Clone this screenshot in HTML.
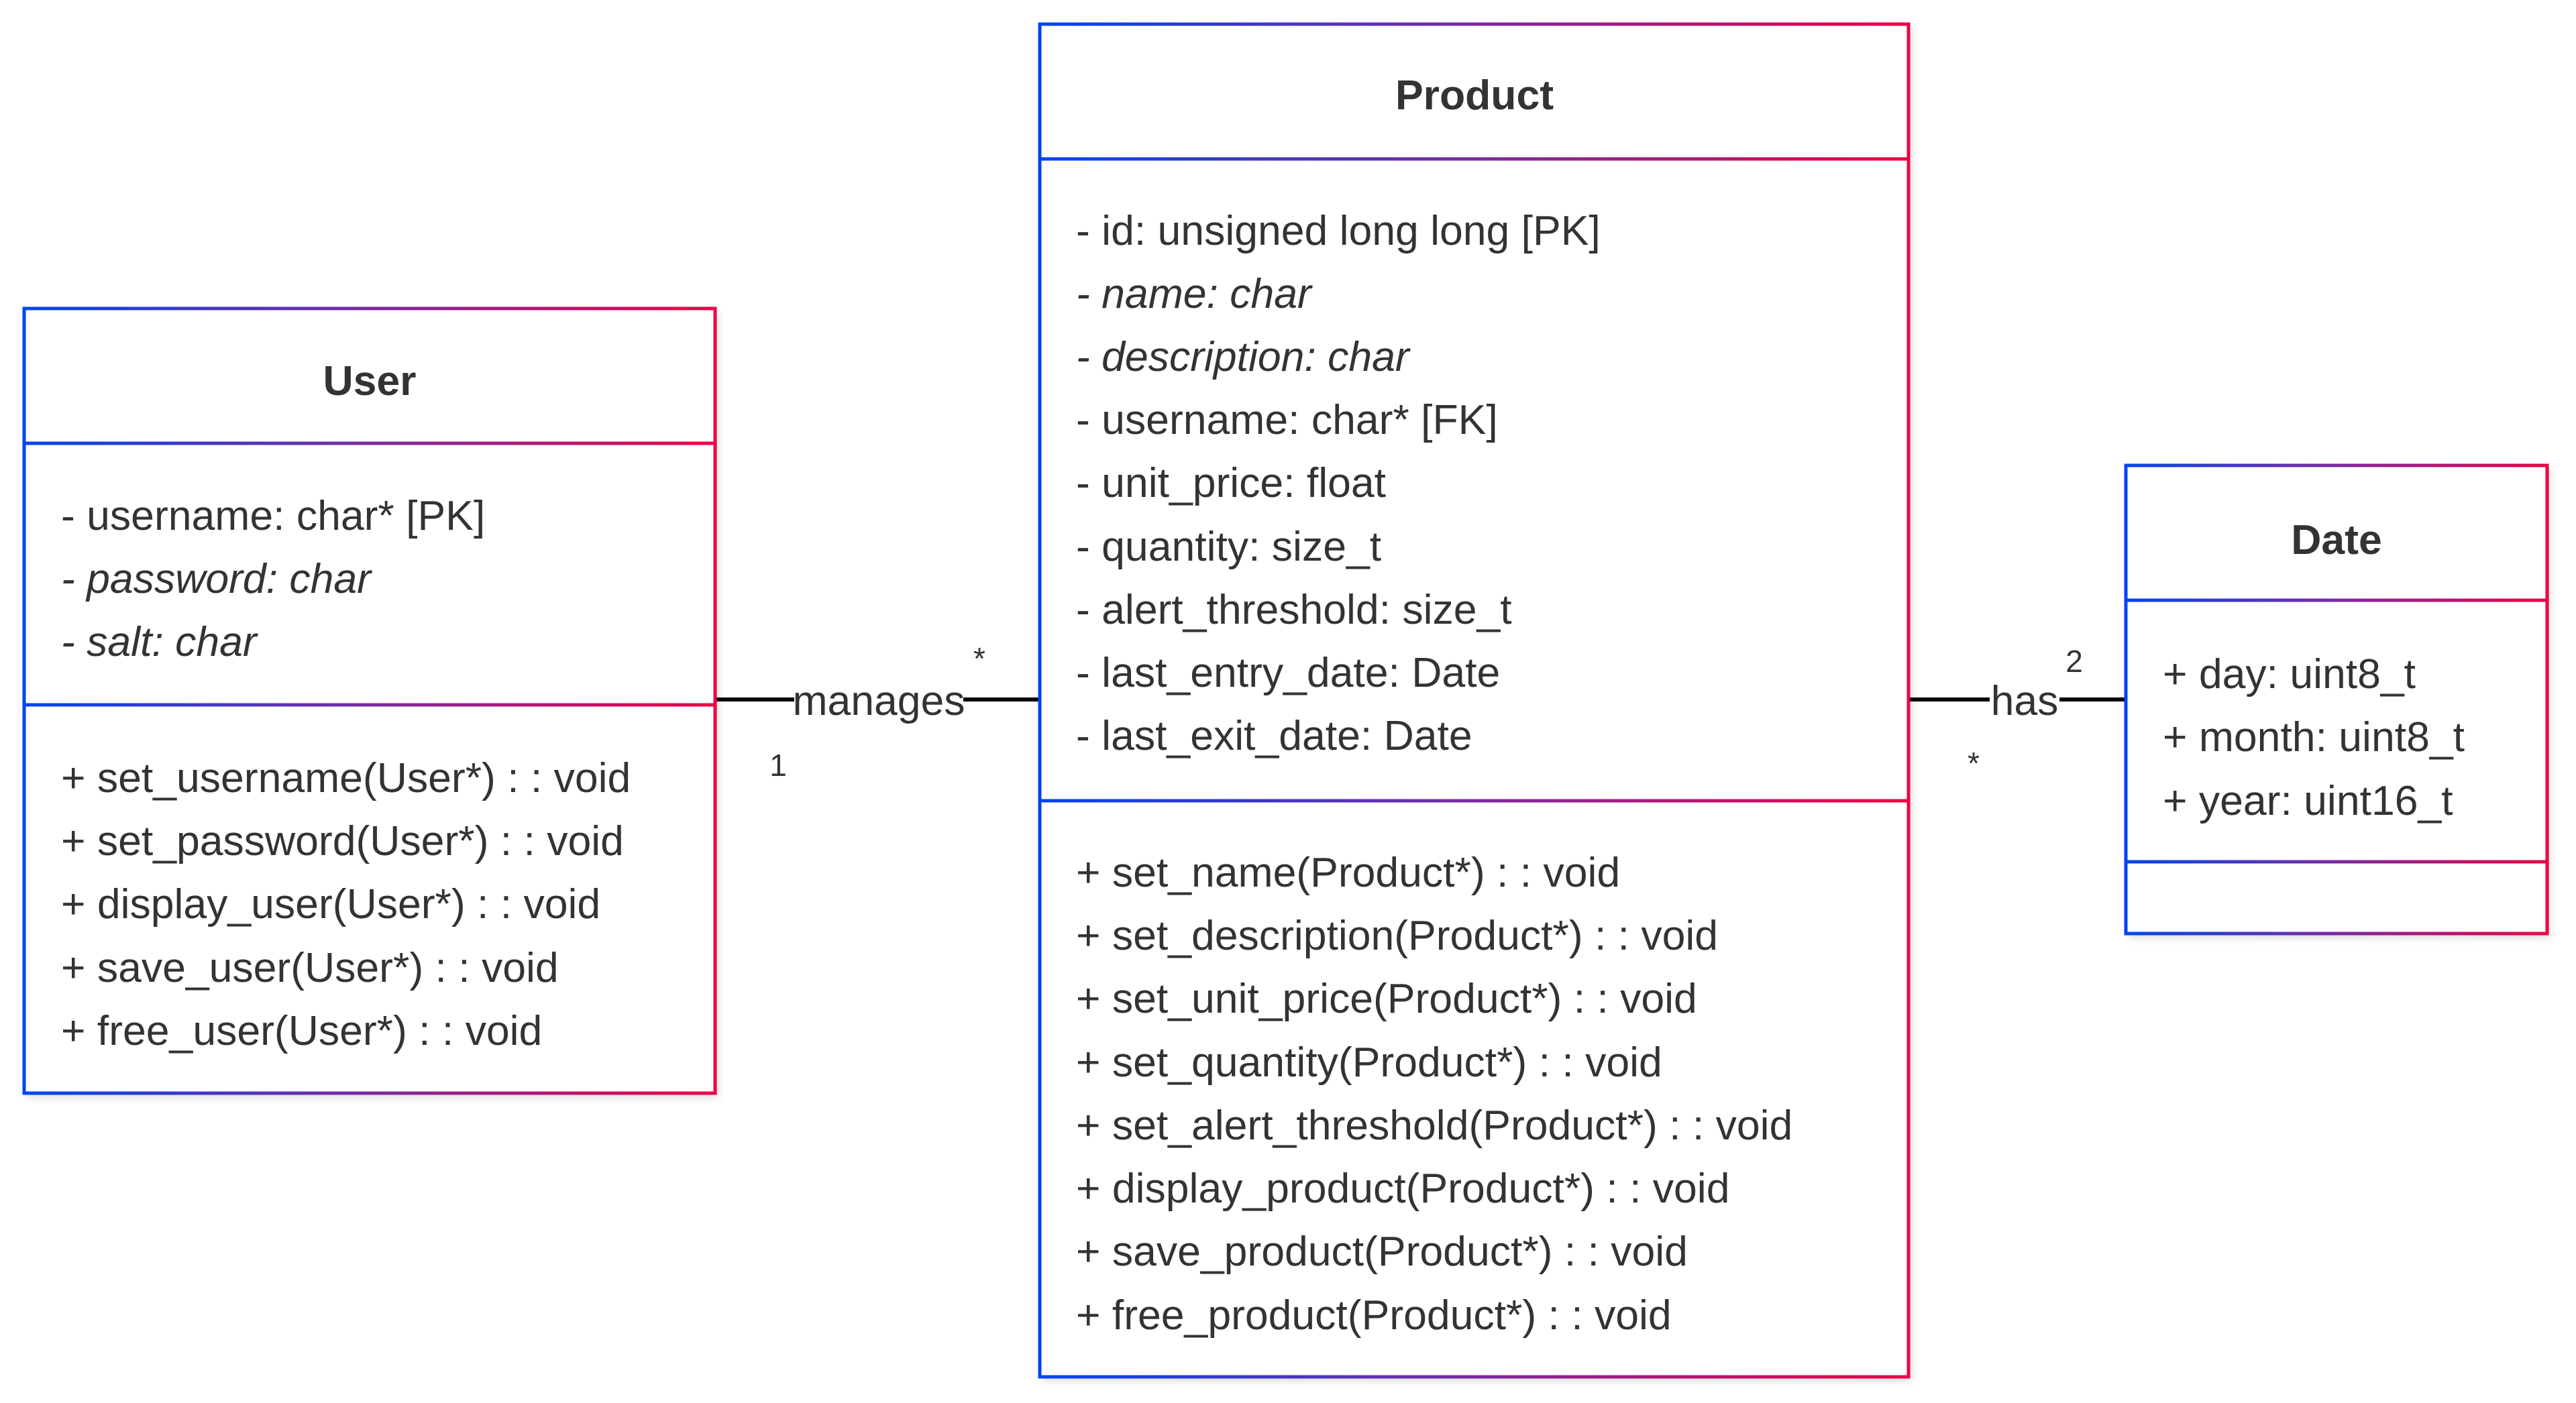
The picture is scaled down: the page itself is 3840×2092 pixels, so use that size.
<!DOCTYPE html>
<html><head><meta charset="utf-8"><style>
html,body{margin:0;padding:0;background:#fff;}
svg{display:block;}
text{font-family:"Liberation Sans",Arial,sans-serif;fill:#333;font-size:62.5px;}
.t{font-weight:bold;text-anchor:middle;}
.i{font-style:italic;}
.s{font-size:46px;}
</style></head><body>
<svg width="3840" height="2092" viewBox="0 0 3840 2092" xmlns="http://www.w3.org/2000/svg">
<defs>
<linearGradient id="gu" gradientUnits="userSpaceOnUse" x1="36" y1="0" x2="1066" y2="0"><stop offset="0" stop-color="#0044ee"/><stop offset="0.5" stop-color="#7a2aa0"/><stop offset="1" stop-color="#ee0044"/></linearGradient>
<linearGradient id="gp" gradientUnits="userSpaceOnUse" x1="1550" y1="0" x2="2845" y2="0"><stop offset="0" stop-color="#0044ee"/><stop offset="0.5" stop-color="#7a2aa0"/><stop offset="1" stop-color="#ee0044"/></linearGradient>
<linearGradient id="gd" gradientUnits="userSpaceOnUse" x1="3169" y1="0" x2="3797" y2="0"><stop offset="0" stop-color="#0044ee"/><stop offset="0.5" stop-color="#7a2aa0"/><stop offset="1" stop-color="#ee0044"/></linearGradient>
<filter id="sh" x="-5%" y="-5%" width="110%" height="110%"><feDropShadow dx="4" dy="6" stdDeviation="6" flood-color="#000" flood-opacity="0.15"/></filter>
</defs>

<line x1="1066" y1="1043" x2="1550" y2="1043" stroke="#000" stroke-width="6"/>
<rect x="1184" y="1010" width="252" height="70" fill="#fff"/>
<text x="1310" y="1066" text-anchor="middle">manages</text>
<text class="s" x="1460" y="998" text-anchor="middle">*</text>
<text class="s" x="1160" y="1157" text-anchor="middle">1</text>

<line x1="2845" y1="1043" x2="3169" y2="1043" stroke="#000" stroke-width="6"/>
<rect x="2966" y="1010" width="104" height="70" fill="#fff"/>
<text x="3018" y="1066" text-anchor="middle">has</text>
<text class="s" x="3092" y="1002" text-anchor="middle">2</text>
<text class="s" x="2942" y="1154" text-anchor="middle">*</text>

<!-- User -->
<g filter="url(#sh)"><rect x="36" y="460" width="1030" height="1170" fill="#fff"/></g>
<g stroke="url(#gu)" stroke-width="5" fill="none">
<rect x="36" y="460" width="1030" height="1170"/>
<line x1="36" y1="661" x2="1066" y2="661"/>
<line x1="36" y1="1051" x2="1066" y2="1051"/>
</g>
<text class="t" x="551" y="589">User</text>
<text x="91" y="790">- username: char* [PK]</text>
<text x="91" y="884" class="i">- password: char</text>
<text x="91" y="978" class="i">- salt: char</text>
<text x="91" y="1181">+ set_username(User*) : : void</text>
<text x="91" y="1275">+ set_password(User*) : : void</text>
<text x="91" y="1369">+ display_user(User*) : : void</text>
<text x="91" y="1464">+ save_user(User*) : : void</text>
<text x="91" y="1558">+ free_user(User*) : : void</text>

<!-- Product -->
<g filter="url(#sh)"><rect x="1550" y="36" width="1295" height="2017" fill="#fff"/></g>
<g stroke="url(#gp)" stroke-width="5" fill="none">
<rect x="1550" y="36" width="1295" height="2017"/>
<line x1="1550" y1="237" x2="2845" y2="237"/>
<line x1="1550" y1="1194" x2="2845" y2="1194"/>
</g>
<text class="t" x="2198" y="163">Product</text>
<text x="1604" y="365">- id: unsigned long long [PK]</text>
<text x="1604" y="459" class="i">- name: char</text>
<text x="1604" y="553" class="i">- description: char</text>
<text x="1604" y="647">- username: char* [FK]</text>
<text x="1604" y="741">- unit_price: float</text>
<text x="1604" y="836">- quantity: size_t</text>
<text x="1604" y="930">- alert_threshold: size_t</text>
<text x="1604" y="1024">- last_entry_date: Date</text>
<text x="1604" y="1118">- last_exit_date: Date</text>
<text x="1604" y="1322">+ set_name(Product*) : : void</text>
<text x="1604" y="1416">+ set_description(Product*) : : void</text>
<text x="1604" y="1510">+ set_unit_price(Product*) : : void</text>
<text x="1604" y="1605">+ set_quantity(Product*) : : void</text>
<text x="1604" y="1699">+ set_alert_threshold(Product*) : : void</text>
<text x="1604" y="1793">+ display_product(Product*) : : void</text>
<text x="1604" y="1887">+ save_product(Product*) : : void</text>
<text x="1604" y="1982">+ free_product(Product*) : : void</text>

<!-- Date -->
<g filter="url(#sh)"><rect x="3169" y="694" width="628" height="698" fill="#fff"/></g>
<g stroke="url(#gd)" stroke-width="5" fill="none">
<rect x="3169" y="694" width="628" height="698"/>
<line x1="3169" y1="895" x2="3797" y2="895"/>
<line x1="3169" y1="1285" x2="3797" y2="1285"/>
</g>
<text class="t" x="3483" y="826">Date</text>
<text x="3224" y="1026">+ day: uint8_t</text>
<text x="3224" y="1120">+ month: uint8_t</text>
<text x="3224" y="1215">+ year: uint16_t</text>
</svg>
</body></html>
